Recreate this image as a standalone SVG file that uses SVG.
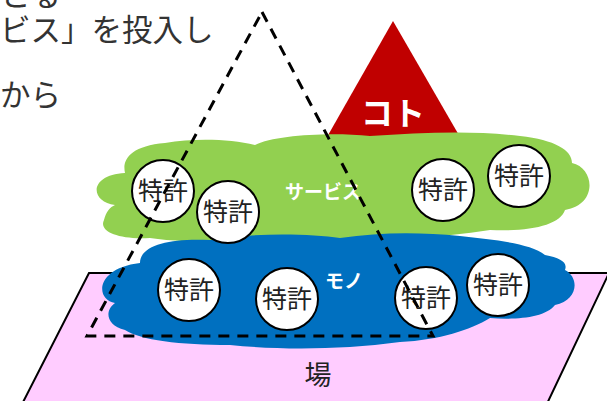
<svg xmlns="http://www.w3.org/2000/svg" width="607" height="401" viewBox="0 0 607 401">
  <style>
    .jp { font-family: "Noto Sans CJK JP", "Noto Sans", sans-serif; }
    .note { font-size: 30.5px; fill: #333333; }
    .pat circle { fill: #ffffff; stroke: #000000; stroke-width: 2; }
    .pat text { font-size: 25px; fill: #222222; text-anchor: middle; }
    .lbl { font-size: 19px; font-weight: bold; fill: #ffffff; }
  </style>
  <rect width="607" height="401" fill="#ffffff"/>

  <g id="note" class="jp note">
    <text x="0" y="6">とる</text>
    <text x="0" y="41">ビス」を投入し</text>
    <text x="0" y="106">から</text>
  </g>

  <g id="ba">
    <polygon points="89,273 609,273 544,410 19,410" fill="#FFCCFF" stroke="#000000" stroke-width="2"/>
    <text class="jp" x="318" y="385" font-size="27" fill="#222222" text-anchor="middle">場</text>
  </g>

  <g id="koto">
    <polygon points="393,21 327,137 460,137" fill="#C00000"/>
    <text class="jp" x="393" y="125" font-size="32" font-weight="bold" fill="#ffffff" text-anchor="middle">コト</text>
  </g>

  <g id="service">
    <path fill="#92D050" d="M 115,205 C 90,202 88,175 125,173 C 122,160 130,146 165,143 C 195,138 230,139 255,145 C 275,135 330,132 370,136 C 420,133 470,130 520,136 C 555,140 572,150 572,163 C 595,168 598,205 565,210 C 560,225 530,232 490,230 C 440,238 380,240 330,240 C 260,242 190,244 150,238 C 120,240 98,232 104,220 C 106,212 110,207 115,205 Z"/>
    <text class="jp lbl" x="323" y="199" text-anchor="middle">サービス</text>
  </g>

  <g id="mono">
    <path fill="#0070C0" d="M 115,303 C 95,300 95,268 140,263 C 140,245 170,238 210,240 C 260,232 310,234 340,238 C 380,232 420,232 460,236 C 495,240 530,243 545,255 C 560,258 568,262 565,270 C 580,278 578,300 555,305 C 545,318 515,320 490,318 C 470,330 440,340 400,342 C 340,350 280,350 230,345 C 180,345 140,340 125,330 C 105,325 105,310 115,303 Z"/>
    <text class="jp lbl" x="325" y="288">モノ</text>
  </g>

  <g id="patent1" class="jp pat"><circle cx="163" cy="191" r="31"/><text x="163" y="200">特許</text></g>
  <g id="patent2" class="jp pat"><circle cx="228" cy="212" r="31"/><text x="228" y="221">特許</text></g>
  <g id="patent3" class="jp pat"><circle cx="443" cy="190" r="31"/><text x="443" y="199">特許</text></g>
  <g id="patent4" class="jp pat"><circle cx="519" cy="176" r="31"/><text x="519" y="185">特許</text></g>
  <g id="patent5" class="jp pat"><circle cx="189" cy="290" r="31"/><text x="189" y="299">特許</text></g>
  <g id="patent6" class="jp pat"><circle cx="287" cy="299" r="31"/><text x="287" y="308">特許</text></g>
  <g id="patent7" class="jp pat"><circle cx="426" cy="298" r="31"/><text x="426" y="307">特許</text></g>
  <g id="patent8" class="jp pat"><circle cx="498" cy="285" r="31"/><text x="498" y="294">特許</text></g>

  <g id="connectors">
    <path d="M 262,12 L 433,336 L 87,336 Z" fill="none" stroke="#000000" stroke-width="3" stroke-dasharray="11 8" stroke-linejoin="miter"/>
  </g>
</svg>
